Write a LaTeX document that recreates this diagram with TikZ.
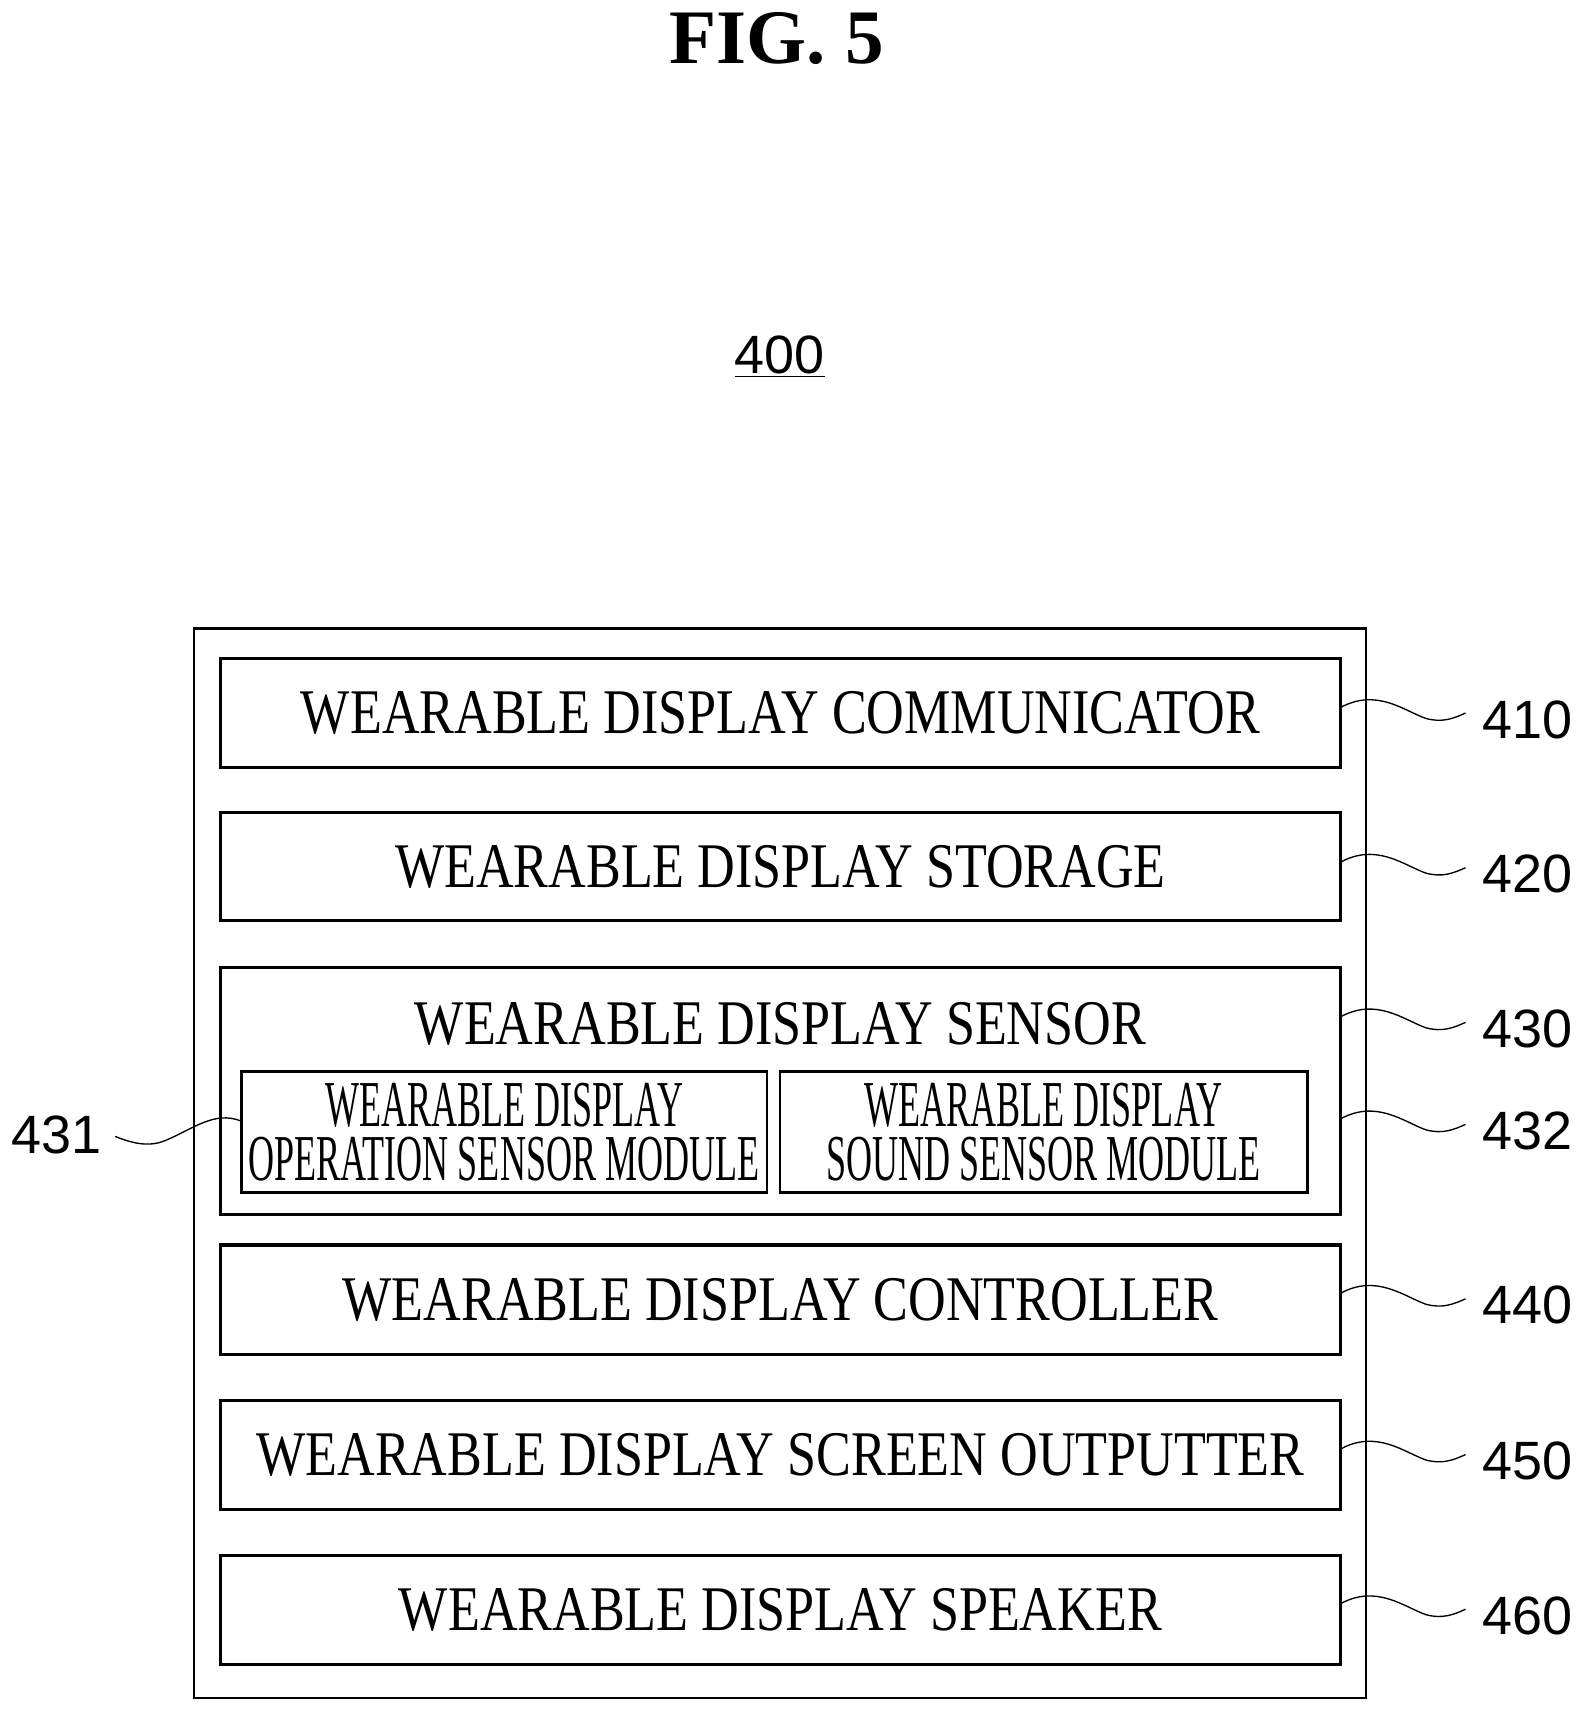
\documentclass[tikz,border=0pt]{standalone}
\usepackage{fontspec}
\setmainfont{Liberation Serif}
\newfontfamily\lab{Liberation Sans}
\newcommand{\nw}[1]{\scalebox{0.82}[1]{#1}}
\newcommand{\sw}[1]{\scalebox{0.55}[1]{#1}}
\begin{document}
\begin{tikzpicture}[x=0.02cm,y=-0.02cm,
  blk/.style={draw,line width=1.6pt,inner sep=0,font=\fontsize{33}{36}\selectfont},
  sub/.style={draw,line width=1.3pt,inner sep=0,font=\fontsize{34}{29}\selectfont},
  ref/.style={font=\lab\fontsize{28}{28}\selectfont},
  ld/.style={line width=0.7pt}]
\useasboundingbox (0,0) rectangle (1446,1568);
\node[font=\bfseries\fontsize{40}{40}\selectfont] (fig) at (708,35) {FIG. 5};
\node[font=\lab\fontsize{28}{28}\selectfont] (n400) at (711,325) {\underline{400}};
\draw[line width=1.1pt] (177,573) rectangle (1245,1548);
\node[blk,minimum width=1021*0.02cm,minimum height=99*0.02cm] (b410) at (711.5,650) {\nw{WEARABLE DISPLAY COMMUNICATOR}};
\node[blk,minimum width=1021*0.02cm,minimum height=99*0.02cm] (b420) at (711.5,790) {\nw{WEARABLE DISPLAY STORAGE}};
\node[draw,line width=1.6pt,minimum width=1021*0.02cm,minimum height=225*0.02cm] (b430) at (711.5,994.5) {};
\node[font=\fontsize{33}{36}\selectfont] (t430) at (711.5,933) {\nw{WEARABLE DISPLAY SENSOR}};
\node[sub,minimum width=479*0.02cm,minimum height=110*0.02cm] (b431) at (459.5,1032) {\sw{\shortstack{WEARABLE DISPLAY\\[2pt]OPERATION SENSOR MODULE}}};
\node[sub,minimum width=481*0.02cm,minimum height=110*0.02cm] (b432) at (951.5,1032) {\sw{\shortstack{WEARABLE DISPLAY\\[2pt]SOUND SENSOR MODULE}}};
\node[blk,minimum width=1021*0.02cm,minimum height=100*0.02cm] (b440) at (711.5,1185) {\nw{WEARABLE DISPLAY CONTROLLER}};
\node[blk,minimum width=1021*0.02cm,minimum height=99*0.02cm] (b450) at (711.5,1326.5) {\nw{WEARABLE DISPLAY SCREEN OUTPUTTER}};
\node[blk,minimum width=1021*0.02cm,minimum height=99*0.02cm] (b460) at (711.5,1467.5) {\nw{WEARABLE DISPLAY SPEAKER}};
\foreach \n/\y in {410/645,420/786,430/927,432/1020,440/1179,450/1321,460/1462}{
  \node[ref,anchor=west] (r\n) at (1345,\y+11) {\n};
  \coordinate (s\n) at (1222,\y);
  \draw[ld] (s\n) .. controls (1255,\y-18) and (1280,\y+3) .. (1300,\y+10) .. controls (1315,\y+14) and (1325,\y+10) .. (1336,\y+5);
}
\node[ref,anchor=east] (r431) at (99,1035) {431};
\coordinate (s431) at (220,1022);
\draw[ld] (105,1036) .. controls (120,1042) and (135,1046) .. (150,1040) .. controls (175,1030) and (195,1012) .. (s431);
\end{tikzpicture}
\end{document}
